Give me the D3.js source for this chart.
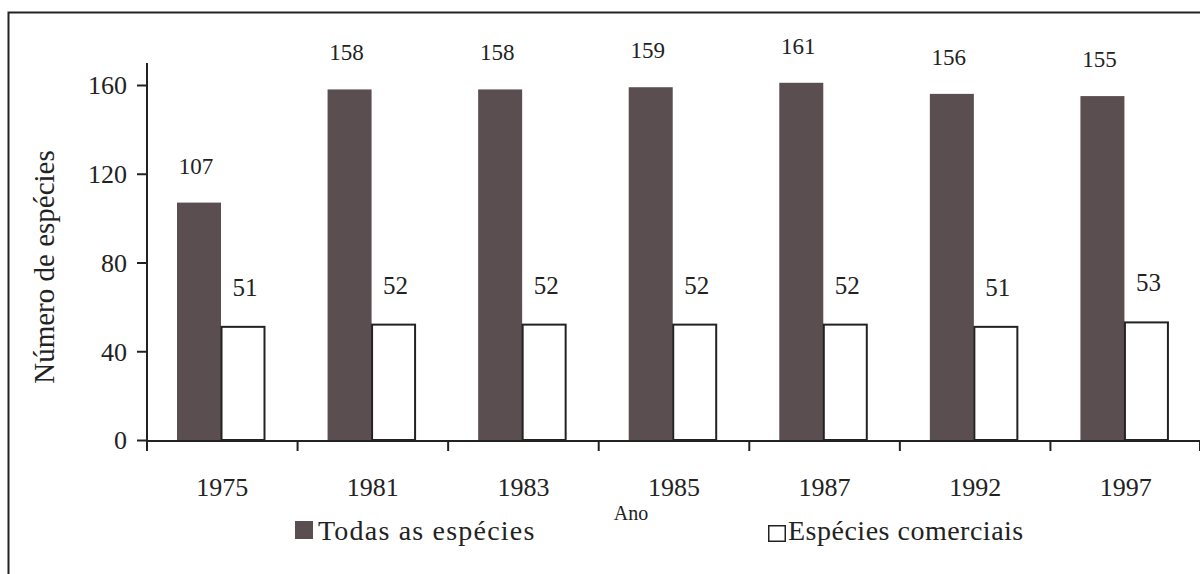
<!DOCTYPE html>
<html>
<head>
<meta charset="utf-8">
<script src="https://cdn.jsdelivr.net/npm/d3@7"></script>
<style>
  html, body { margin: 0; padding: 0; background: #fff; }
  svg { display: block; }
  svg text { font-family: "Liberation Serif", "DejaVu Serif", serif !important; }
</style>
</head>
<body>
<svg id="chart" width="1200" height="574" font-family="Liberation Serif, serif"></svg>
<script>
const categories = ["1975", "1981", "1983", "1985", "1987", "1992", "1997"];
const seriesNames = ["Todas as espécies", "Espécies comerciais"];
const todasValues = [107, 158, 158, 159, 161, 156, 155];
const comerciaisValues = [51, 52, 52, 52, 52, 51, 53];
const yTicks = [0, 40, 80, 120, 160];
const yTitle = "Número de espécies";
const xTitle = "Ano";

const seriesValues = [todasValues, comerciaisValues];
const colors = ["#5a4e50", "#ffffff"];
const FONT = "Liberation Serif, serif";

const svg = d3.select("#chart");

// frame
svg.append("path")
  .attr("d", "M8.5,574 L8.5,12.5 L1200,12.5")
  .attr("fill", "none").attr("stroke", "#222").attr("stroke-width", 2);

const x0 = d3.scaleBand().domain(categories).range([147, 1201]).padding(0);
const x1 = d3.scaleBand().domain(seriesNames).range([30, 118]).padding(0);
const y = d3.scaleLinear().domain([0, 160]).range([440, 85]);

const ink = "#222";

// bars
const groups = svg.append("g").selectAll("g")
  .data(categories)
  .join("g")
  .attr("transform", d => `translate(${x0(d)},0)`);

seriesNames.forEach((s, si) => {
  groups.append("rect")
    .attr("x", x1(s) + (si === 1 ? 0.5 : 0))
    .attr("width", x1.bandwidth() - (si === 1 ? 1 : 0))
    .attr("y", (d, i) => y(seriesValues[si][i]))
    .attr("height", (d, i) => y(0) - y(seriesValues[si][i]))
    .attr("fill", colors[si])
    .attr("stroke", si === 1 ? ink : "none")
    .attr("stroke-width", 2);

  groups.append("text")
    .attr("x", x1(s) + x1.bandwidth() / 2 + (si === 0 ? -3 : 2))
    .attr("y", (d, i) => y(seriesValues[si][i]) - (si === 0 ? 29 : 31))
    .attr("text-anchor", "middle")
    .attr("font-family", FONT)
    .attr("font-size", si === 0 ? 23 : 25)
    .attr("fill", ink)
    .text((d, i) => seriesValues[si][i]);
});

// y axis
const yAxis = d3.axisLeft(y).tickValues(yTicks).tickSize(10).tickPadding(10);
const gy = svg.append("g").attr("transform", "translate(147,0)").call(yAxis)
  .attr("font-family", FONT);
gy.select(".domain").remove();
gy.append("line").attr("x1", 0).attr("x2", 0).attr("y1", 63).attr("y2", 441)
  .attr("stroke", ink).attr("stroke-width", 2);
gy.selectAll(".tick line").attr("stroke", ink).attr("stroke-width", 2);
gy.selectAll(".tick text").attr("font-size", 26).attr("fill", ink)
  .attr("font-family", FONT).attr("dy", "0.34em");

// x axis
const gx = svg.append("g").attr("transform", "translate(0,441)");
gx.append("line").attr("x1", 146).attr("x2", 1200).attr("y1", 0).attr("y2", 0)
  .attr("stroke", ink).attr("stroke-width", 2);
const tickPos = categories.map(c => x0(c)).concat([x0.range()[1] - 1]);
gx.selectAll("line.tk").data(tickPos).join("line")
  .attr("class", "tk")
  .attr("x1", d => d).attr("x2", d => d).attr("y1", 0).attr("y2", 10)
  .attr("stroke", ink).attr("stroke-width", 2);
gx.selectAll("text.cat").data(categories).join("text")
  .attr("class", "cat")
  .attr("x", d => x0(d) + x0.bandwidth() / 2)
  .attr("y", 55)
  .attr("text-anchor", "middle")
  .attr("font-family", FONT)
  .attr("font-size", 26).attr("fill", ink)
  .text(d => d);

// axis titles
svg.append("text")
  .attr("transform", "translate(54,267) rotate(-90)")
  .attr("text-anchor", "middle")
  .attr("font-family", FONT)
  .attr("font-size", 29).attr("fill", ink)
  .text(yTitle);

svg.append("text")
  .attr("x", 631).attr("y", 520)
  .attr("text-anchor", "middle")
  .attr("font-family", FONT)
  .attr("font-size", 20).attr("fill", ink)
  .text(xTitle);

// legend
const legendPos = [{sx: 295, tx: 318}, {sx: 768, tx: 788}];
seriesNames.forEach((s, si) => {
  svg.append("rect")
    .attr("x", legendPos[si].sx + (si === 1 ? 0.75 : 0))
    .attr("y", 521 + (si === 1 ? 4.75 : 0))
    .attr("width", si === 1 ? 16.5 : 18)
    .attr("height", si === 1 ? 15.5 : 18)
    .attr("fill", colors[si])
    .attr("stroke", si === 1 ? ink : "none")
    .attr("stroke-width", 1.5);
  svg.append("text")
    .attr("x", legendPos[si].tx).attr("y", 540)
    .attr("font-family", FONT)
    .attr("font-size", 28).attr("fill", ink)
    .attr("letter-spacing", si === 0 ? 1.2 : 0.5)
    .text(s);
});
</script>
</body>
</html>
